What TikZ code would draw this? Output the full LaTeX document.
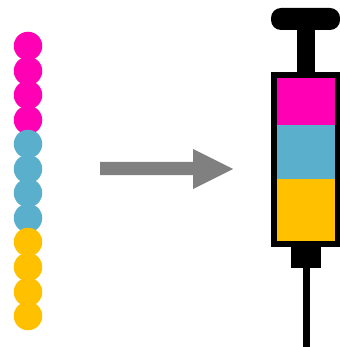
\documentclass[tikz,border=0pt]{standalone}
\definecolor{beadm}{HTML}{FF00B4}
\definecolor{beadb}{HTML}{5AAFCD}
\definecolor{beady}{HTML}{FFC000}
\tikzset{bead/.style={circle,inner sep=0pt,minimum size=28.5pt}}
\begin{document}
\begin{tikzpicture}[x=1pt,y=-1pt]
\useasboundingbox(0,0)rectangle(339,347);
% beads
\foreach \y/\c in {46/beadm,71/beadm,95/beadm,120/beadm,144/beadb,169/beadb,193/beadb,218/beadb,242/beady,267/beady,292/beady,316/beady}
\node[bead,fill=\c] (b\y) at (28,\y) {};
% arrow
\fill[gray](100,162)--(193,162)--(193,149)--(233,169)--(193,189)--(193,175)--(100,175)--cycle;
% syringe
\fill[black,rounded corners=10pt](271,8)rectangle(340,30);
\fill[black](297,29)rectangle(315,74);
\fill[beadm](275,75)rectangle(337,125);
\fill[beadb](275,125)rectangle(337,179);
\fill[beady](275,179)rectangle(337,244);
\draw[line width=6pt](274,75)rectangle(338,244);
\fill[black](291,246)rectangle(321,268);
\fill[black](303,267)rectangle(310,347);
\end{tikzpicture}
\end{document}
